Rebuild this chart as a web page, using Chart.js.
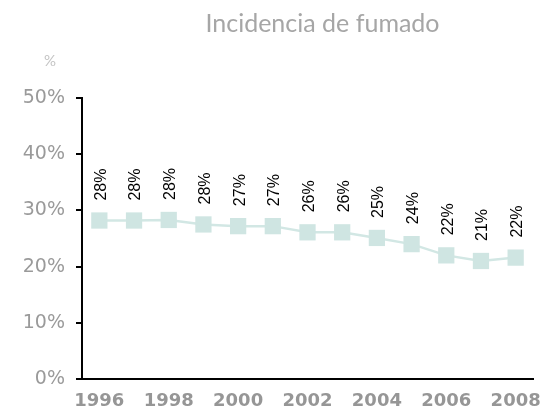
<!DOCTYPE html>
<html>
<head>
<meta charset="utf-8">
<script src="https://cdn.jsdelivr.net/npm/chart.js@4/dist/chart.umd.min.js"></script>
<style>
  html, body { margin: 0; padding: 0; background: #ffffff; }
  #wrap { width: 556px; height: 415px; }
</style>
</head>
<body>
<div id="wrap"><canvas id="c" width="556" height="415"></canvas></div>
<script>
const chartTitle = 'Incidencia de fumado';
const unitLabel = '%';
const years = ['1996','1997','1998','1999','2000','2001','2002','2003','2004','2005','2006','2007','2008'];
const values = [28.2, 28.2, 28.3, 27.5, 27.2, 27.2, 26.1, 26.1, 25.1, 24.0, 22.0, 21.0, 21.6];
const yTicks = [0, 10, 20, 30, 40, 50];

const valueLabels = {
  id: 'valueLabels',
  afterDatasetsDraw(chart) {
    const ctx = chart.ctx;
    const meta = chart.getDatasetMeta(0);
    ctx.save();
    ctx.fillStyle = '#000000';
    ctx.font = '16px "Liberation Sans", Arial, sans-serif';
    ctx.textAlign = 'center';
    ctx.textBaseline = 'middle';
    meta.data.forEach((pt, i) => {
      ctx.save();
      ctx.translate(pt.x + 2, pt.y - 36);
      ctx.rotate(-Math.PI / 2);
      ctx.fillText(Math.round(values[i]) + '%', 0, 0);
      ctx.restore();
    });
    ctx.restore();
  }
};

const headerText = {
  id: 'headerText',
  afterDraw(chart) {
    const ctx = chart.ctx;
    const area = chart.chartArea;
    ctx.save();
    ctx.fillStyle = '#a6a6a6';
    ctx.font = '25px Lato, "Open Sans", sans-serif';
    ctx.textAlign = 'center';
    ctx.textBaseline = 'alphabetic';
    ctx.fillText(chartTitle, (area.left + area.right) / 2 + 15, 32);
    ctx.fillStyle = '#c4c4c4';
    ctx.font = '15px Lato, "Open Sans", sans-serif';
    ctx.textAlign = 'left';
    ctx.fillText(unitLabel, 44, 66);
    ctx.restore();
  }
};

new Chart(document.getElementById('c'), {
  type: 'line',
  data: {
    labels: years,
    datasets: [{
      data: values,
      borderColor: '#d2e7e4',
      backgroundColor: '#cfe5e2',
      borderWidth: 2.5,
      pointStyle: 'rect',
      pointRadius: 11.5,
      pointBorderWidth: 0,
      pointBackgroundColor: '#cfe5e2',
      tension: 0,
      fill: false,
      clip: false
    }]
  },
  options: {
    responsive: false,
    animation: false,
    layout: { padding: { top: 98, right: 23, left: 0, bottom: 0 } },
    plugins: {
      legend: { display: false },
      tooltip: { enabled: false },
      title: { display: false }
    },
    scales: {
      x: {
        offset: true,
        grid: { display: false, drawTicks: false },
        border: { display: true, color: '#000000', width: 2 },
        ticks: {
          autoSkip: false,
          maxRotation: 0,
          padding: 12,
          color: '#969696',
          font: { family: '"DejaVu Sans", sans-serif', size: 18, weight: 'bold' },
          callback: function (v, i) { return i % 2 === 0 ? years[i] : ''; }
        },
        afterFit(scale) { scale.height = 36; }
      },
      y: {
        min: 0,
        max: 50,
        afterBuildTicks(scale) { scale.ticks = yTicks.map(v => ({ value: v })); },
        grid: { display: true, drawOnChartArea: false, drawTicks: true, tickLength: 6, color: '#000000', lineWidth: 2 },
        border: { display: true, color: '#000000', width: 2 },
        ticks: {
          padding: 11,
          color: '#9a9a9a',
          font: { family: '"DejaVu Sans", sans-serif', size: 19 },
          callback: function (v) { return v + '%'; }
        },
        afterFit(scale) { scale.width = 82; }
      }
    }
  },
  plugins: [valueLabels, headerText]
});
</script>
</body>
</html>
